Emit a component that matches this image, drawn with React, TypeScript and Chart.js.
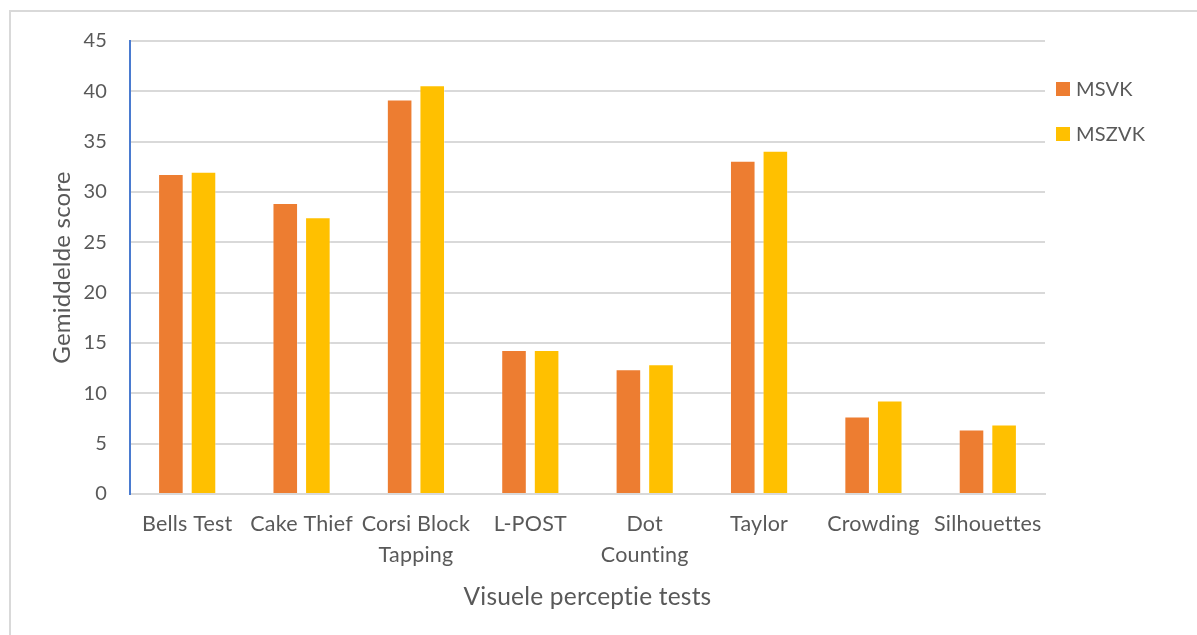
import React, { useEffect, useRef } from "react";
import { Chart, registerables } from "chart.js";

Chart.register(...registerables);

// Test names (multi-line where the label wraps)
const categories: string[][] = [
  ["Bells Test"],
  ["Cake Thief"],
  ["Corsi Block", "Tapping"],
  ["L-POST"],
  ["Dot", "Counting"],
  ["Taylor"],
  ["Crowding"],
  ["Silhouettes"],
];

// Mean scores per group
const msvk = [31.8, 28.9, 39.2, 14.3, 12.4, 33.1, 7.7, 6.4];
const mszvk = [32.0, 27.5, 40.6, 14.3, 12.9, 34.1, 9.3, 6.9];

const seriesNames = ["MSVK", "MSZVK"];
const seriesColors = ["#ED7D31", "#FFC000"];

const yMin = 0;
const yMax = 45;
const yStep = 5;

const xTitle = "Visuele perceptie tests";
const yTitle = "Gemiddelde score";

const FONT = "Lato, 'Open Sans', sans-serif";
const TEXT = "#595959";
const GRID = "#d9d9d9";

// A tiny letter spacing keeps the font's ligatures (ti, tt) from forming
const noLigaturesPlugin = {
  id: "noLigatures",
  beforeDraw(chart: Chart) {
    (chart.ctx as any).letterSpacing = "0.2px";
  },
};

// Legend drawn at the upper right, beside the plot
const legendPlugin = {
  id: "sideLegend",
  afterDraw(chart: Chart) {
    const { ctx } = chart;
    ctx.save();
    ctx.font = `20px ${FONT}`;
    ctx.textBaseline = "middle";
    ctx.textAlign = "left";
    chart.data.datasets.forEach((ds, i) => {
      const cy = 89 + i * 45;
      ctx.fillStyle = ds.backgroundColor as string;
      ctx.fillRect(1056, cy - 7, 14, 14);
      ctx.fillStyle = TEXT;
      ctx.fillText(ds.label as string, 1076, cy + 1);
    });
    ctx.restore();
  },
};

export default function App() {
  const canvasRef = useRef<HTMLCanvasElement | null>(null);

  useEffect(() => {
    if (!canvasRef.current) return;
    const chart = new Chart(canvasRef.current, {
      type: "bar",
      data: {
        labels: categories,
        datasets: [
          {
            label: seriesNames[0],
            data: msvk,
            backgroundColor: seriesColors[0],
            borderColor: "rgba(255,255,255,0.35)",
            borderWidth: 1,
          },
          {
            label: seriesNames[1],
            data: mszvk,
            backgroundColor: seriesColors[1],
            borderColor: "rgba(255,255,255,0.35)",
            borderWidth: 1,
          },
        ],
      },
      options: {
        animation: false,
        responsive: false,
        maintainAspectRatio: false,
        layout: { padding: { top: 41, right: 152, left: 0, bottom: 0 } },
        datasets: {
          bar: { categoryPercentage: 0.57, barPercentage: 0.785 },
        },
        plugins: {
          legend: { display: false },
          tooltip: { enabled: false },
        },
        scales: {
          x: {
            afterFit(scale: any) {
              scale.height = 141;
            },
            grid: { display: false, drawTicks: false },
            border: { display: true, color: GRID, width: 2 },
            ticks: {
              color: TEXT,
              font: { family: FONT, size: 21.5, lineHeight: 1.42 },
              padding: 15,
              maxRotation: 0,
              autoSkip: false,
            },
            title: {
              display: true,
              text: xTitle,
              color: TEXT,
              font: { family: FONT, size: 24.5, lineHeight: 1.2 },
              padding: { top: 0, bottom: 23.3 },
            },
          },
          y: {
            min: yMin,
            max: yMax,
            afterFit(scale: any) {
              scale.width = 130;
            },
            grid: { color: GRID, lineWidth: 2, drawTicks: false },
            border: { display: true, color: "#4A7BD0", width: 2 },
            ticks: {
              stepSize: yStep,
              color: TEXT,
              font: { family: FONT, size: 20 },
              padding: 23,
            },
            title: {
              display: true,
              text: yTitle,
              color: TEXT,
              font: { family: FONT, size: 24, lineHeight: 1.2 },
              padding: { top: 47.6, bottom: 0 },
            },
          },
        },
      },
      plugins: [noLigaturesPlugin, legendPlugin],
    });
    return () => chart.destroy();
  }, []);

  return (
    <div
      style={{
        position: "fixed",
        left: 0,
        top: 0,
        width: 1197,
        height: 635,
        background: "#ffffff",
      }}
    >
      <div
        style={{
          position: "absolute",
          left: 9,
          top: 10,
          right: -4,
          bottom: -4,
          borderTop: `2px solid ${GRID}`,
          borderLeft: `2px solid ${GRID}`,
        }}
      />
      <canvas
        ref={canvasRef}
        width={1197}
        height={635}
        style={{ position: "absolute", left: 0, top: 0 }}
      />
    </div>
  );
}
